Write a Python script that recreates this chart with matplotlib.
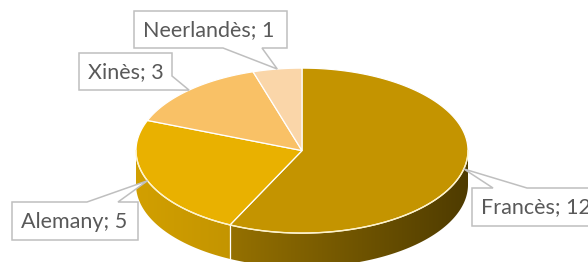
import matplotlib
matplotlib.use("Agg")
import matplotlib.pyplot as plt
import numpy as np
from matplotlib.patches import Polygon
from matplotlib.colors import to_rgb

# data
languages = ["Francès", "Alemany", "Xinès", "Neerlandès"]
counts = [12, 5, 3, 1]

# style
top_colors = ["#C49400", "#E9B100", "#F9C166", "#FAD6A9"]
side_shade = [(0.76, 0.40), (0.90, 0.84), (0.90, 0.80), (0.90, 0.80)]

# pie geometry in pixels (y downwards)
CX, CY, RX, RY, DEPTH = 302, 150.6, 166, 82.5, 34

# callout boxes: (x0, y0, x1, y1), side with the pointer, pointer base
callouts = {
    "Francès": ((472, 188, 610, 226), "top", (493, 527)),
    "Alemany": ((12, 202, 138, 240), "top", (87, 118)),
    "Xinès": ((79, 53, 172, 90), "right", (76, 90)),
    "Neerlandès": ((134, 11, 287, 48), "bottom", (223, 262)),
}


def rim(t, drop=0.0):
    r = np.radians(t)
    return CX + RX * np.cos(r), CY - RY * np.sin(r) + drop


def callout_poly(box, side, base, tip):
    x0, y0, x1, y1 = box
    a, b = base
    if side == "top":
        pts = [(x0, y0), (a, y0), tip, (b, y0), (x1, y0), (x1, y1), (x0, y1)]
    elif side == "bottom":
        pts = [(x0, y0), (x1, y0), (x1, y1), (b, y1), tip, (a, y1), (x0, y1)]
    else:
        pts = [(x0, y0), (x1, y0), (x1, a), tip, (x1, b), (x0, y1)]
    return pts


fig = plt.figure(figsize=(5.88, 2.62), dpi=100)
ax = fig.add_axes([0, 0, 1, 1])
ax.axis("off")

total = sum(counts)
starts, ends = [], []
acc = 0
for c in counts:
    starts.append(90 - acc / total * 360)
    acc += c
    ends.append(90 - acc / total * 360)

# side walls (front half only)
for i, (s, e) in enumerate(zip(starts, ends)):
    t = np.linspace(e, s, 400)
    front = np.sin(np.radians(t)) <= 0
    if not front.any():
        continue
    t = t[front]
    xt, yt = rim(t)
    xb, yb = rim(t, DEPTH)
    pts = np.column_stack([np.r_[xt, xb[::-1]], np.r_[yt, yb[::-1]]])
    poly = Polygon(pts, closed=True, facecolor="none", edgecolor="none")
    ax.add_patch(poly)
    xmin, xmax = pts[:, 0].min(), pts[:, 0].max()
    f = np.linspace(side_shade[i][0], side_shade[i][1], 100)
    img = np.clip(np.array(to_rgb(top_colors[i]))[None, None, :] * f[None, :, None], 0, 1)
    im = ax.imshow(img, extent=[xmin, xmax, pts[:, 1].max(), pts[:, 1].min()],
                   aspect="auto", interpolation="bilinear", zorder=1)
    im.set_clip_path(poly)

# white seams on the side at slice boundaries
for s in starts:
    if np.sin(np.radians(s)) < 0:
        x, y = rim(s)
        ax.plot([x, x], [y, y + DEPTH], color="white", lw=0.9, zorder=2)

# top faces
for i, (s, e) in enumerate(zip(starts, ends)):
    t = np.linspace(s, e, 300)
    xt, yt = rim(t)
    pts = np.column_stack([np.r_[CX, xt], np.r_[CY, yt]])
    ax.add_patch(Polygon(pts, closed=True, facecolor=top_colors[i],
                         edgecolor="white", lw=0.9, zorder=3))

# light rim along the front edge
t = np.linspace(180, 360, 300)
xr, yr = rim(t)
ax.plot(xr, yr, color="#FFF3C8", lw=1.0, zorder=4)

# callouts
for i, name in enumerate(languages):
    box, side, base = callouts[name]
    mid = (starts[i] + ends[i]) / 2
    tip = rim(mid)
    ax.add_patch(Polygon(callout_poly(box, side, base, tip), closed=True,
                         facecolor="white", edgecolor="#BFBFBF", lw=1.1,
                         zorder=5))
    ax.text(box[0] + 9, (box[1] + box[3]) / 2 + 0.5, f"{name}; {counts[i]}",
            ha="left", va="center", fontsize=15.5, color="#595959",
            family="Lato", zorder=6)

ax.set_xlim(0, 588)
ax.set_ylim(262, 0)
fig.savefig("out.png", dpi=100)
